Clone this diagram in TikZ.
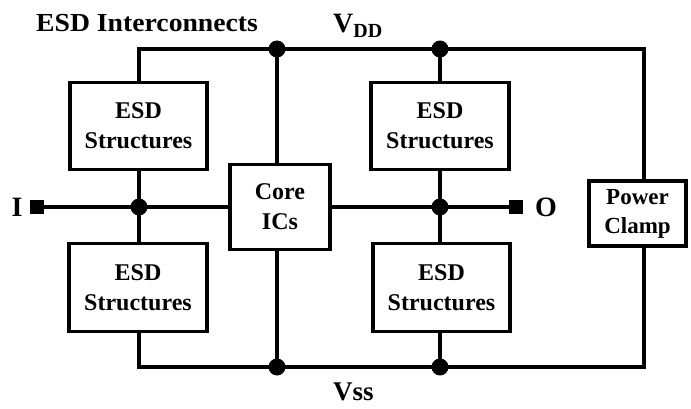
\documentclass[tikz,border=0pt]{standalone}
\usepackage{fontspec}
\setmainfont{Liberation Serif}
\begin{document}
\begin{tikzpicture}[x=1pt,y=-1pt,
  wire/.style={line width=3.6pt},
  box/.style={draw,line width=3.6pt,align=center,inner sep=0pt,
    font=\bfseries\fontsize{24}{30}\selectfont},
  dot/.style={circle,fill=black,inner sep=0pt,minimum size=17pt},
  pin/.style={rectangle,fill=black,inner sep=0pt,minimum size=14pt},
  lbl/.style={inner sep=0pt,font=\bfseries\fontsize{28}{30}\selectfont}]
\useasboundingbox (0,0) rectangle (691,409);
% boxes
\node[box,minimum width=137pt,minimum height=87pt] (esd1) at (138.5,126) {ESD\\Structures};
\node[box,minimum width=138pt,minimum height=88pt] (esd2) at (138,287.5) {ESD\\Structures};
\node[box,minimum width=138pt,minimum height=87pt] (esd3) at (440,126) {ESD\\Structures};
\node[box,minimum width=137pt,minimum height=88pt] (esd4) at (441.5,287.5) {ESD\\Structures};
\node[box,minimum width=100pt,minimum height=85pt] (core) at (280,207) {Core\\ICs};
\node[box,minimum width=97pt,minimum height=65pt,font=\bfseries\fontsize{23}{29}\selectfont] (clamp) at (637.5,213.5) {Power\\Clamp};
% junction coordinates
\coordinate (vddL) at (139,49);
\coordinate (vddR) at (644,49);
\coordinate (vssL) at (139,367);
\coordinate (vssR) at (644,367);
\node[dot] (d1) at (277,49) {};
\node[dot] (d2) at (440,49) {};
\node[dot] (d3) at (277,367) {};
\node[dot] (d4) at (440,367) {};
\node[dot] (j1) at (139,207) {};
\node[dot] (j2) at (440,207) {};
\node[pin] (pI) at (37,207) {};
\node[pin] (pO) at (516,207) {};
% rails
\draw[wire] (vddL |- esd1.north) -- (vddL) -- (vddR) -- (vddR |- clamp.north);
\draw[wire] (vssL |- esd2.south) -- (vssL) -- (vssR) -- (vssR |- clamp.south);
\draw[wire] (d1.center) -- (d1 |- core.north);
\draw[wire] (d3.center) -- (d3 |- core.south);
\draw[wire] (d2.center) -- (d2 |- esd3.north);
\draw[wire] (d4.center) -- (d4 |- esd4.south);
\draw[wire] (j1 |- esd1.south) -- (j1 |- esd2.north);
\draw[wire] (j2 |- esd3.south) -- (j2 |- esd4.north);
\draw[wire] (pI.center) -- (pI -| core.west);
\draw[wire] (pO.center) -- (pO -| core.east);
% labels
\node[lbl,anchor=base west,font=\bfseries\fontsize{26}{30}\selectfont\addfontfeature{FakeStretch=1.065}] (title) at (36,32) {ESD Interconnects};
\node[lbl,anchor=base west] (vdd) at (333,33) {V\textsubscript{\fontsize{20}{20}\selectfont DD}};
\node[lbl,anchor=base west,font=\bfseries\fontsize{27}{30}\selectfont] (vss) at (333,400) {Vss};
\node[lbl,anchor=base] (lI) at (17,216) {I};
\node[lbl,anchor=base west] (lO) at (535,216) {O};
\end{tikzpicture}
\end{document}
